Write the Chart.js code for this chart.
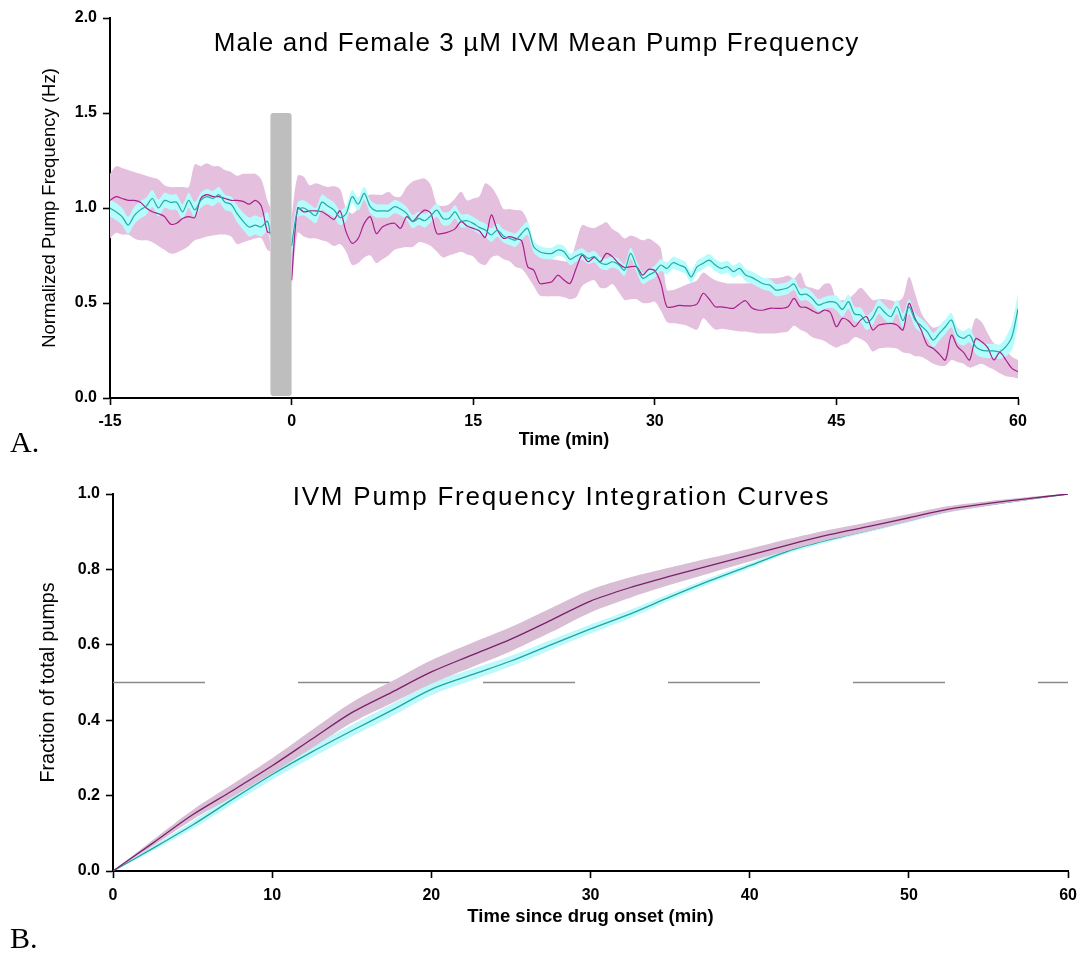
<!DOCTYPE html>
<html><head><meta charset="utf-8">
<script src="https://cdn.jsdelivr.net/npm/chart.js@4.4.1/dist/chart.umd.min.js"></script>
<style>
html,body{margin:0;padding:0;background:#fff;}
body{width:1085px;height:953px;position:relative;overflow:hidden;}
canvas{position:absolute;left:0;}
#cA{top:0;} #cB{top:460px;}
.lab{position:absolute;left:10px;font-family:'Liberation Serif','Times New Roman',serif;font-size:30px;line-height:1;color:#000;}
</style></head><body>
<canvas id="cA" width="1085" height="460"></canvas>
<canvas id="cB" width="1085" height="493"></canvas>
<div class="lab" style="top:427px">A.</div>
<div class="lab" style="top:923px">B.</div>
<script>
// ---------- Panel A data (time in min, normalized pump frequency) ----------
const timeA = [
 -15,-14.5,-14,-13.5,-13,-12.5,-12,-11.5,-11,-10.5,-10,-9.5,-9,-8.5,-8,-7.5,-7,-6.5,-6,-5.5,-5,-4.5,-4,-3.5,-3,-2.5,-2,-1.75,-1,
 0,0.5,1,1.5,2,2.5,3,3.5,4,4.5,5,5.5,6,6.5,7,7.5,8,8.5,9,9.5,
 10,10.5,11,11.5,12,12.5,13,13.5,14,14.5,15,15.5,16,16.5,17,17.5,18,18.5,19,19.5,
 20,20.5,21,21.5,22,22.5,23,23.5,24,24.5,25,25.5,26,26.5,27,27.5,28,28.5,29,29.5,
 30,30.5,31,31.5,32,32.5,33,33.5,34,34.5,35,35.5,36,36.5,37,37.5,38,38.5,39,39.5,
 40,40.5,41,41.5,42,42.5,43,43.5,44,44.5,45,45.5,46,46.5,47,47.5,48,48.5,49,49.5,
 50,50.5,51,51.5,52,52.5,53,53.5,54,54.5,55,55.5,56,56.5,57,57.5,58,58.5,59,59.5,
 60];
const magentaMean = [
 1.04,1.06,1.05,1.04,1.04,1.03,1.0,0.98,0.97,0.955,0.915,0.92,0.945,0.955,0.95,1.05,1.07,1.06,1.06,1.05,1.04,1.04,1.035,1.02,1.04,1.01,0.875,0.87,null,
 0.62,1.0,0.98,0.985,0.985,0.98,0.96,0.94,0.985,0.875,
 0.814,0.84,0.919,0.954,0.866,0.9,0.915,0.92,0.893,0.954,
 0.93,0.963,0.989,0.972,0.866,0.866,0.875,0.89,0.928,0.905,
 0.893,0.88,0.845,0.963,0.884,0.84,0.849,0.84,0.828,0.691,
 0.673,0.603,0.605,0.612,0.647,0.621,0.603,0.682,0.752,0.717,
 0.74,0.717,0.761,0.744,0.709,0.687,0.691,0.691,0.647,0.677,
 0.67,0.603,0.48,0.48,0.487,0.485,0.485,0.495,0.551,0.52,
 0.48,0.48,0.475,0.472,0.495,0.512,0.475,0.463,0.463,0.472,
 0.472,0.472,0.48,0.524,0.48,0.477,0.46,0.445,0.463,0.45,
 0.375,0.419,0.407,0.375,0.41,0.428,0.358,0.384,0.39,0.393,
 0.384,0.358,0.498,0.419,0.358,0.279,0.261,0.231,0.2,0.331,
 0.27,0.24,0.2,0.312,0.296,0.265,0.2,0.24,0.2,0.156,
 0.138];
const magentaUpper = [
 1.18,1.22,1.21,1.2,1.19,1.18,1.17,1.16,1.15,1.12,1.11,1.11,1.11,1.11,1.23,1.22,1.235,1.22,1.22,1.2,1.19,1.17,1.18,1.18,1.18,1.15,1.04,1.0,null,
 0.95,1.17,1.165,1.12,1.13,1.12,1.11,1.115,1.1,1.0,
 0.97,1.0,1.06,1.07,1.07,1.07,1.085,1.06,1.06,1.11,
 1.14,1.15,1.155,1.12,1.02,1.01,1.02,1.05,1.085,1.04,
 1.05,1.06,1.13,1.11,1.06,0.995,0.995,0.99,0.985,0.93,
 0.78,0.74,0.735,0.73,0.725,0.72,0.72,0.82,0.91,0.9,
 0.895,0.91,0.925,0.89,0.87,0.84,0.855,0.845,0.83,0.84,
 0.82,0.787,0.57,0.568,0.58,0.594,0.605,0.62,0.66,0.64,
 0.62,0.61,0.603,0.603,0.603,0.603,0.605,0.612,0.625,0.63,
 0.63,0.635,0.645,0.63,0.66,0.59,0.58,0.57,0.6,0.6,
 0.52,0.515,0.524,0.55,0.58,0.55,0.516,0.52,0.52,0.515,
 0.507,0.53,0.638,0.55,0.45,0.4,0.37,0.38,0.41,0.41,
 0.37,0.345,0.335,0.42,0.4,0.34,0.29,0.27,0.252,0.217,
 0.2];
const magentaLower = [
 0.84,0.87,0.86,0.86,0.84,0.83,0.83,0.82,0.8,0.78,0.76,0.765,0.78,0.8,0.83,0.84,0.85,0.855,0.86,0.86,0.85,0.81,0.82,0.83,0.84,0.84,0.78,0.77,null,
 0.58,0.87,0.85,0.84,0.84,0.83,0.82,0.8,0.81,0.77,
 0.7,0.71,0.74,0.75,0.71,0.73,0.75,0.78,0.79,0.795,
 0.795,0.82,0.815,0.8,0.77,0.74,0.75,0.76,0.77,0.755,
 0.745,0.71,0.7,0.74,0.75,0.73,0.72,0.69,0.68,0.64,
 0.59,0.54,0.535,0.535,0.535,0.53,0.52,0.53,0.59,0.61,
 0.62,0.58,0.58,0.6,0.56,0.516,0.52,0.52,0.5,0.5,
 0.507,0.46,0.4,0.393,0.39,0.384,0.37,0.36,0.42,0.39,
 0.36,0.365,0.36,0.355,0.35,0.35,0.345,0.34,0.34,0.34,
 0.34,0.345,0.35,0.38,0.36,0.345,0.32,0.31,0.3,0.28,
 0.265,0.28,0.29,0.32,0.31,0.29,0.245,0.26,0.265,0.265,
 0.26,0.24,0.235,0.22,0.217,0.2,0.18,0.17,0.17,0.2,
 0.19,0.18,0.16,0.17,0.18,0.165,0.15,0.13,0.115,0.11,
 0.103];
const cyanMean = [
 1.0,0.98,0.955,0.91,0.96,0.99,1.01,1.05,1.0,1.04,1.03,1.03,0.98,1.04,0.99,1.04,1.06,1.05,1.07,1.03,1.02,0.97,0.93,0.9,0.91,0.9,0.93,0.86,null,
 0.8,0.99,1.0,0.98,0.96,1.03,1.01,0.99,0.95,0.97,
 1.06,1.02,1.077,1.007,0.985,0.985,0.985,1.007,0.995,0.972,
 0.928,0.945,0.933,0.96,0.989,0.945,0.945,0.98,0.933,0.933,
 0.919,0.898,0.884,0.858,0.884,0.853,0.84,0.831,0.866,0.893,
 0.796,0.77,0.761,0.761,0.779,0.77,0.73,0.747,0.758,0.735,
 0.744,0.712,0.703,0.717,0.703,0.673,0.761,0.691,0.63,0.647,
 0.665,0.7,0.682,0.712,0.7,0.687,0.638,0.691,0.709,0.726,
 0.7,0.682,0.691,0.665,0.682,0.647,0.635,0.617,0.6,0.594,
 0.568,0.572,0.58,0.6,0.545,0.547,0.524,0.489,0.5,0.507,
 0.5,0.466,0.507,0.442,0.437,0.396,0.424,0.48,0.45,0.428,
 0.48,0.407,0.48,0.41,0.38,0.349,0.305,0.34,0.375,0.41,
 0.331,0.314,0.331,0.27,0.252,0.248,0.248,0.244,0.27,0.323,
 0.47];
const cyanSem = [
 0.045,0.045,0.045,0.045,0.045,0.045,0.045,0.045,0.045,0.04,0.04,0.04,0.04,0.04,0.04,0.04,0.04,0.04,0.04,0.04,0.04,0.045,0.045,0.05,0.05,0.05,0.05,0.06,null,
 0.06,0.04,0.04,0.04,0.04,0.04,0.04,0.04,0.04,0.04,
 0.035,0.035,0.035,0.035,0.035,0.035,0.035,0.035,0.035,0.035,
 0.035,0.035,0.035,0.035,0.035,0.035,0.035,0.035,0.035,0.035,
 0.035,0.035,0.035,0.035,0.035,0.035,0.035,0.035,0.035,0.035,
 0.03,0.03,0.03,0.03,0.03,0.03,0.03,0.03,0.03,0.03,
 0.03,0.03,0.03,0.03,0.03,0.03,0.03,0.03,0.03,0.03,
 0.032,0.032,0.032,0.032,0.032,0.032,0.032,0.032,0.032,0.032,
 0.032,0.032,0.032,0.032,0.032,0.032,0.032,0.032,0.032,0.032,
 0.032,0.032,0.032,0.032,0.032,0.032,0.032,0.032,0.032,0.032,
 0.038,0.038,0.038,0.038,0.038,0.038,0.038,0.038,0.038,0.038,
 0.038,0.038,0.038,0.038,0.038,0.038,0.038,0.038,0.038,0.038,
 0.038,0.038,0.038,0.038,0.038,0.038,0.038,0.038,0.05,0.07,
 0.08];
const xTicksA = [-15, 0, 15, 30, 45, 60];
const stimWindow = [-1.75, 0];   // drug application bar (min)
const stimTop = 1.5;

// ---------- Panel B data (integration curves) ----------
const timeB = [0,2.5,5,7.5,10,12.5,15,17.5,20,22.5,25,27.5,30,32.5,35,37.5,40,42.5,45,47.5,50,52.5,55,57.5,60];
const magentaInt = [0,0.074,0.149,0.213,0.279,0.35,0.42,0.474,0.528,0.572,0.615,0.665,0.716,0.752,0.782,0.81,0.838,0.866,0.892,0.914,0.937,0.96,0.975,0.988,1.0];
const magentaIntSem = [0,0.008,0.013,0.017,0.02,0.024,0.027,0.029,0.031,0.032,0.032,0.032,0.03,0.027,0.023,0.02,0.017,0.015,0.013,0.012,0.01,0.008,0.006,0.004,0];
const cyanInt = [0,0.06,0.122,0.19,0.256,0.316,0.372,0.426,0.482,0.52,0.557,0.6,0.642,0.682,0.727,0.77,0.81,0.85,0.879,0.904,0.93,0.955,0.971,0.986,1.0];
const cyanIntSem = [0,0.006,0.01,0.012,0.014,0.015,0.015,0.016,0.016,0.015,0.014,0.013,0.012,0.011,0.009,0.008,0.007,0.006,0.006,0.005,0.005,0.004,0.003,0.002,0];
const halfLevel = 0.5;

// ---------- helpers ----------
const FONT = "'Liberation Sans', Arial, Helvetica, sans-serif";
const pts = (xs, ys) => xs.map((x, i) => ({x, y: ys[i]}));
const shift = (m, s, sign) => m.map((v, i) => v == null ? null : +(v + sign * s[i]).toFixed(4));

function titlePlugin(text, cx, baseY, size, ls) {
  return {
    id: 'customTitle',
    afterDraw(chart) {
      const c = chart.ctx;
      c.save();
      c.font = size + 'px ' + FONT;
      c.fillStyle = '#000';
      c.textAlign = 'center';
      c.textBaseline = 'alphabetic';
      if ('letterSpacing' in c) c.letterSpacing = ls + 'px';
      c.fillText(text, cx, baseY);
      c.restore();
    }
  };
}
const stimPlugin = {
  id: 'stimBar',
  afterDatasetsDraw(chart) {
    const xs = chart.scales.x, ys = chart.scales.y, c = chart.ctx;
    const x0 = xs.getPixelForValue(stimWindow[0]), x1 = xs.getPixelForValue(stimWindow[1]);
    const y0 = ys.getPixelForValue(stimTop), y1 = ys.getPixelForValue(0) - 2;
    c.save();
    c.fillStyle = '#bebebe';
    c.beginPath();
    if (c.roundRect) c.roundRect(x0, y0, x1 - x0, y1 - y0, 3); else c.rect(x0, y0, x1 - x0, y1 - y0);
    c.fill();
    c.restore();
  }
};

function axisCommon(opts) {
  return Object.assign({
    type: 'linear',
    grid: {display: true, drawOnChartArea: false, drawTicks: true, tickLength: 7, tickWidth: 1.6, color: '#000'},
    border: {display: true, color: '#000', width: 2},
  }, opts);
}
const lineDs = (data, color, order, w) => ({data, borderColor: color, borderWidth: w, pointRadius: 0, fill: false, tension: 0.3, order});
const bandDs = (data, color, order, fill) => ({data, borderColor: 'rgba(0,0,0,0)', borderWidth: 0, backgroundColor: color, pointRadius: 0, fill, tension: 0.3, order});
const tickFont = {family: FONT, size: 16, weight: 'bold'};

// ---------- Panel A ----------
new Chart(document.getElementById('cA'), {
  type: 'line',
  data: {
    datasets: [
      lineDs(pts(timeA, cyanMean), '#25aaa6', 0, 1.2),
      lineDs(pts(timeA, magentaMean), '#a8208c', 1, 1.2),
      bandDs(pts(timeA, shift(cyanMean, cyanSem, 1)), '#b5fcfc', 2, '+1'),
      bandDs(pts(timeA, shift(cyanMean, cyanSem, -1)), '#b5fcfc', 3, false),
      bandDs(pts(timeA, magentaUpper), '#e5c0de', 4, '+1'),
      bandDs(pts(timeA, magentaLower), '#e5c0de', 5, false)
    ]
  },
  options: {
    responsive: false, animation: false, devicePixelRatio: 1,
    layout: {padding: {left: 0, right: 67, top: 18, bottom: 0}},
    plugins: {legend: {display: false}, tooltip: {enabled: false}, title: {display: false}},
    scales: {
      x: axisCommon({
        min: -15, max: 60,
        afterFit: s => { s.height = 62; },
        afterBuildTicks: s => { s.ticks = xTicksA.map(v => ({value: v})); },
        ticks: {font: tickFont, color: '#000', padding: 7, maxRotation: 0, autoSkip: false},
        title: {display: true, text: 'Time (min)', font: {family: FONT, size: 18, weight: 'bold'}, color: '#000', padding: {top: 0, bottom: 9}}
      }),
      y: axisCommon({
        min: 0, max: 2,
        afterFit: s => { s.width = 110; },
        ticks: {stepSize: 0.5, callback: v => Number(v).toFixed(1), font: tickFont, color: '#000', padding: 6},
        title: {display: true, text: 'Normalized Pump Frequency (Hz)', font: {family: FONT, size: 18.5}, color: '#000', padding: {top: 39, bottom: 0}}
      })
    }
  },
  plugins: [stimPlugin, titlePlugin('Male and Female 3 \u00b5M IVM Mean Pump Frequency', 536.5, 51, 26, 1.1)]
});

// ---------- Panel B ----------
new Chart(document.getElementById('cB'), {
  type: 'line',
  data: {
    datasets: [
      lineDs(pts(timeB, magentaInt), '#7b1f6c', 0, 1.3),
      bandDs(pts(timeB, shift(magentaInt, magentaIntSem, 1)), '#d9bdd4', 1, '+1'),
      bandDs(pts(timeB, shift(magentaInt, magentaIntSem, -1)), '#d9bdd4', 2, false),
      lineDs(pts(timeB, cyanInt), '#1ca6a2', 3, 1.3),
      bandDs(pts(timeB, shift(cyanInt, cyanIntSem, 1)), '#bdf8fa', 4, '+1'),
      bandDs(pts(timeB, shift(cyanInt, cyanIntSem, -1)), '#bdf8fa', 5, false),
      {data: [{x: timeB[0], y: halfLevel}, {x: timeB[timeB.length - 1], y: halfLevel}], borderColor: '#8a8a8a', borderWidth: 1.3, borderDash: [92, 93], pointRadius: 0, fill: false, tension: 0, order: 6}
    ]
  },
  options: {
    responsive: false, animation: false, devicePixelRatio: 1,
    layout: {padding: {left: 0, right: 14, top: 34, bottom: 0}},
    plugins: {legend: {display: false}, tooltip: {enabled: false}, title: {display: false}},
    scales: {
      x: axisCommon({
        min: 0, max: 60,
        afterFit: s => { s.height = 82; },
        ticks: {stepSize: 10, font: tickFont, color: '#000', padding: 8, maxRotation: 0, autoSkip: false},
        title: {display: true, text: 'Time since drug onset (min)', font: {family: FONT, size: 18.5, weight: 'bold'}, color: '#000', padding: {top: 0, bottom: 25}}
      }),
      y: axisCommon({
        min: 0, max: 1,
        afterFit: s => { s.width = 113; },
        ticks: {stepSize: 0.2, callback: v => Number(v).toFixed(1), font: tickFont, color: '#000', padding: 6},
        title: {display: true, text: 'Fraction of total pumps', font: {family: FONT, size: 19.7}, color: '#000', padding: {top: 36.5, bottom: 0}}
      })
    }
  },
  plugins: [titlePlugin('IVM Pump Frequency Integration Curves', 561.5, 45, 26, 1.8)]
});
</script>
</body></html>
